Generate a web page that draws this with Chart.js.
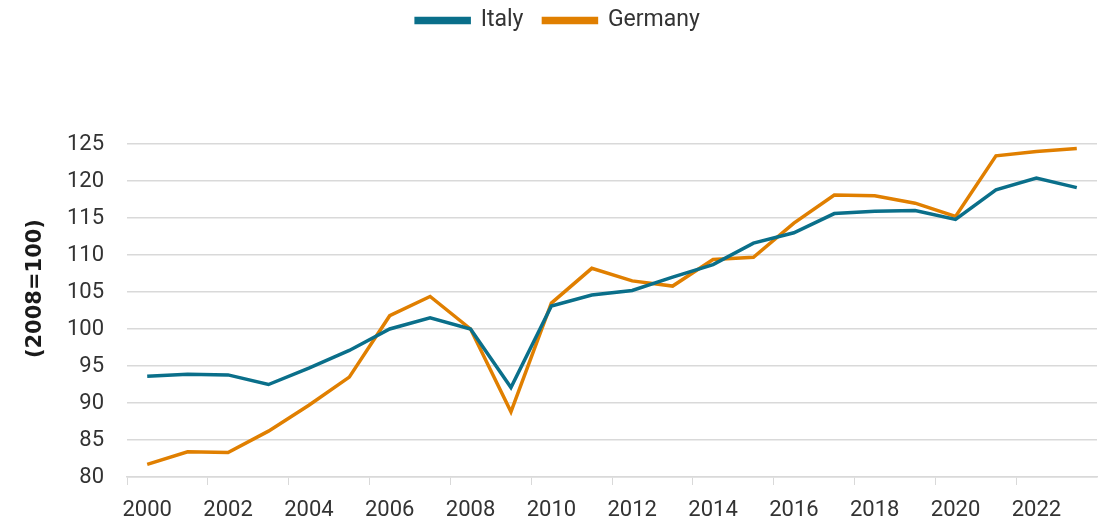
<!DOCTYPE html>
<html>
<head>
<meta charset="utf-8">
<script src="https://cdn.jsdelivr.net/npm/chart.js@4.4.1/dist/chart.umd.min.js"></script>
<style>
    html, body { margin: 0; padding: 0; background: #ffffff; }
    #wrap { width: 1112px; height: 520px; }
</style>
</head>
<body>
<div id="wrap"><canvas id="gdpChart" width="1112" height="520"></canvas></div>
<script>
// Real GDP index, 2008 = 100
const years = ['2000', '2001', '2002', '2003', '2004', '2005', '2006', '2007', '2008', '2009', '2010', '2011',
               '2012', '2013', '2014', '2015', '2016', '2017', '2018', '2019', '2020', '2021', '2022', '2023'];
const italy = [93.6, 93.9, 93.8, 92.5, 94.7, 97.1, 100.0, 101.5, 100.0, 92.1, 103.1, 104.6,
               105.2, 107.0, 108.7, 111.6, 113.0, 115.6, 115.9, 116.0, 114.8, 118.8, 120.4, 119.1];
const germany = [81.7, 83.4, 83.3, 86.2, 89.7, 93.5, 101.8, 104.4, 100.0, 88.8, 103.5, 108.2,
                 106.5, 105.8, 109.4, 109.7, 114.3, 118.1, 118.0, 117.0, 115.2, 123.4, 124.0, 124.4];
const yTicks = [80, 85, 90, 95, 100, 105, 110, 115, 120, 125];

const FONT = 'Roboto, "Noto Sans", sans-serif';
const gridGrey = '#d9d9d9';

// push the plot area down below the legend
const legendSpacer = {
    id: 'legendSpacer',
    beforeInit(chart) {
        const origFit = chart.legend.fit;
        chart.legend.fit = function () {
            origFit.bind(chart.legend)();
            this.height += 102;
        };
    }
};

const ctx = document.getElementById('gdpChart').getContext('2d');
new Chart(ctx, {
    type: 'line',
    data: {
        labels: years,
        datasets: [
            {
                label: 'Italy',
                data: italy,
                borderColor: '#0a6f8a',
                backgroundColor: '#0a6f8a',
                borderWidth: 3.5,
                pointRadius: 0,
                tension: 0
            },
            {
                label: 'Germany',
                data: germany,
                borderColor: '#e07f00',
                backgroundColor: '#e07f00',
                borderWidth: 3.5,
                pointRadius: 0,
                tension: 0
            }
        ]
    },
    options: {
        responsive: false,
        animation: false,
        layout: { padding: { left: 19, right: 15, top: -11, bottom: 0 } },
        scales: {
            x: {
                offset: true,
                afterFit: (scale) => { scale.height = 43; },
                grid: {
                    offset: true,
                    drawOnChartArea: false,
                    tickLength: 8,
                    tickColor: (c) => (c.index % 2 === 0 ? gridGrey : 'rgba(0,0,0,0)')
                },
                border: { color: gridGrey, width: 1.5 },
                ticks: {
                    autoSkip: false,
                    maxRotation: 0,
                    padding: 12,
                    color: '#333333',
                    font: { family: FONT, size: 22 },
                    callback: function (value, index) {
                        return index % 2 === 0 ? this.getLabelForValue(value) : '';
                    }
                }
            },
            y: {
                min: yTicks[0],
                max: yTicks[yTicks.length - 1],
                afterFit: (scale) => { scale.width = 108; },
                afterBuildTicks: (scale) => { scale.ticks = yTicks.map(v => ({ value: v })); },
                grid: { color: gridGrey, lineWidth: 1.5, drawTicks: false },
                border: { display: false },
                ticks: {
                    padding: 23,
                    color: '#333333',
                    font: { family: FONT, size: 22 }
                },
                title: {
                    display: true,
                    // leading spaces nudge the rotated title up a little
                    text: '      (2008=100)',
                    color: '#1a1a1a',
                    font: { family: '"DejaVu Sans", sans-serif', size: 21, weight: 'bold' },
                    padding: { top: 4, bottom: 4 }
                }
            }
        },
        plugins: {
            legend: {
                position: 'top',
                labels: {
                    boxWidth: 53,
                    boxHeight: 4,
                    padding: 20,
                    color: '#333333',
                    font: { family: FONT, size: 23 }
                }
            },
            tooltip: { enabled: false }
        }
    },
    plugins: [legendSpacer]
});
</script>
</body>
</html>
